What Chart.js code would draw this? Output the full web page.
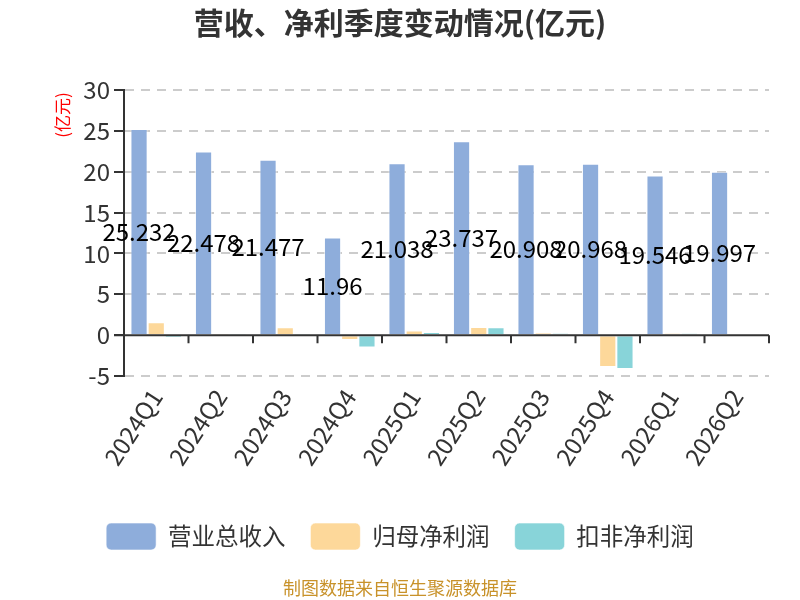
<!DOCTYPE html>
<html>
<head>
<meta charset="utf-8">
<script src="https://cdn.jsdelivr.net/npm/chart.js@4.4.0/dist/chart.umd.min.js"></script>
<style>
  html, body { margin: 0; padding: 0; background: #fff; }
  #wrap { width: 800px; height: 600px; }
</style>
</head>
<body>
<div id="wrap"><canvas id="profitChart" width="800" height="600"></canvas></div>
<script>
const quarters = ['2024Q1', '2024Q2', '2024Q3', '2024Q4', '2025Q1', '2025Q2', '2025Q3', '2025Q4', '2026Q1', '2026Q2'];
const revenue = [25.232, 22.478, 21.477, 11.96, 21.038, 23.737, 20.908, 20.968, 19.546, 19.997];
const netProfit = [1.58, 0.03, 0.96, -0.6, 0.56, 1.0, 0.25, -3.9, 0.22, -0.12];
const deductedProfit = [-0.36, 0.03, 0.02, -1.5, 0.38, 0.96, 0.22, -4.15, 0.2, 0.12];
const yTicks = { min: -5, max: 30, step: 5 };

const FONT = '"Noto Sans CJK SC", "Noto Sans", sans-serif';
Chart.defaults.font.family = FONT;

// zero line, category ticks, value labels, unit label and source note
const extras = {
    id: 'extras',
    afterDatasetsDraw(chart) {
        const { ctx, chartArea, scales } = chart;
        const x = scales.x, y = scales.y;
        const zeroY = y.getPixelForValue(0);
        const half = (x.getPixelForValue(1) - x.getPixelForValue(0)) / 2;

        ctx.save();
        ctx.strokeStyle = '#333';
        ctx.lineWidth = 2;
        ctx.beginPath();
        ctx.moveTo(chartArea.left - 10, zeroY);
        ctx.lineTo(chartArea.right, zeroY);
        for (let i = 0; i < quarters.length; i++) {
            const edge = x.getPixelForValue(i) + half;
            ctx.moveTo(edge, zeroY);
            ctx.lineTo(edge, zeroY + 8);
        }
        ctx.stroke();

        ctx.fillStyle = '#000';
        ctx.font = '24px ' + FONT;
        ctx.textAlign = 'center';
        ctx.textBaseline = 'middle';
        chart.getDatasetMeta(0).data.forEach((bar, i) => {
            ctx.fillText(String(revenue[i]), bar.x, (bar.y + bar.base) / 2);
        });

        ctx.fillStyle = '#ff0000';
        ctx.font = '17px ' + FONT;
        ctx.translate(chartArea.left - 61, chartArea.top + 25);
        ctx.rotate(-Math.PI / 2);
        ctx.fillText('(亿元)', 0, 0);
        ctx.restore();

        ctx.save();
        ctx.fillStyle = '#c8922a';
        ctx.font = '18px ' + FONT;
        ctx.textAlign = 'center';
        ctx.textBaseline = 'middle';
        ctx.fillText('制图数据来自恒生聚源数据库', chart.width / 2, chart.height - 12);
        ctx.restore();
    }
};

const ctx = document.getElementById('profitChart').getContext('2d');

new Chart(ctx, {
    type: 'bar',
    data: {
        labels: quarters,
        datasets: [
            {
                label: '营业总收入',
                data: revenue,
                backgroundColor: '#8eaddb',
                borderColor: 'rgba(255,255,255,0.6)',
                borderWidth: 1
            },
            {
                label: '归母净利润',
                data: netProfit,
                backgroundColor: '#fdd89a',
                borderColor: 'rgba(255,255,255,0.6)',
                borderWidth: 1
            },
            {
                label: '扣非净利润',
                data: deductedProfit,
                backgroundColor: '#88d4d9',
                borderColor: 'rgba(255,255,255,0.6)',
                borderWidth: 1
            }
        ]
    },
    options: {
        responsive: false,
        animation: false,
        devicePixelRatio: 1,
        layout: { padding: { left: 0, right: 0, top: 0, bottom: 40 } },
        datasets: { bar: { categoryPercentage: 0.8, barPercentage: 1 } },
        plugins: {
            title: {
                display: true,
                text: '营收、净利季度变动情况(亿元)',
                color: '#333',
                font: { size: 30, weight: 'bold' },
                padding: { top: 5, bottom: 49 }
            },
            legend: {
                position: 'bottom',
                labels: {
                    boxWidth: 50,
                    boxHeight: 27,
                    useBorderRadius: true,
                    borderRadius: 5,
                    padding: 25,
                    color: '#333',
                    font: { size: 23.5 }
                }
            },
            tooltip: { enabled: false }
        },
        scales: {
            x: {
                grid: { display: false },
                border: { display: false },
                ticks: { minRotation: 57, maxRotation: 57, color: '#333', font: { size: 24 }, padding: 0 },
                afterFit(scale) { scale.height = 122; }
            },
            y: {
                min: yTicks.min,
                max: yTicks.max,
                ticks: { stepSize: yTicks.step, color: '#333', font: { size: 24 }, padding: 4 },
                grid: {
                    color: c => (c.tick && c.tick.value === 0 ? 'rgba(0,0,0,0)' : '#cccccc'),
                    lineWidth: 2,
                    tickColor: '#333',
                    tickLength: 10,
                    tickWidth: 2
                },
                border: { color: '#333', width: 2, dash: [9, 7] },
                afterFit(scale) { scale.width = 124; }
            },
            // empty right-hand spacer so the plot ends short of the edge
            spacer: {
                type: 'linear',
                position: 'right',
                display: true,
                grid: { display: false },
                border: { display: false },
                ticks: { display: false },
                afterFit(scale) { scale.width = 31; }
            }
        }
    },
    plugins: [extras]
});
</script>
</body>
</html>
